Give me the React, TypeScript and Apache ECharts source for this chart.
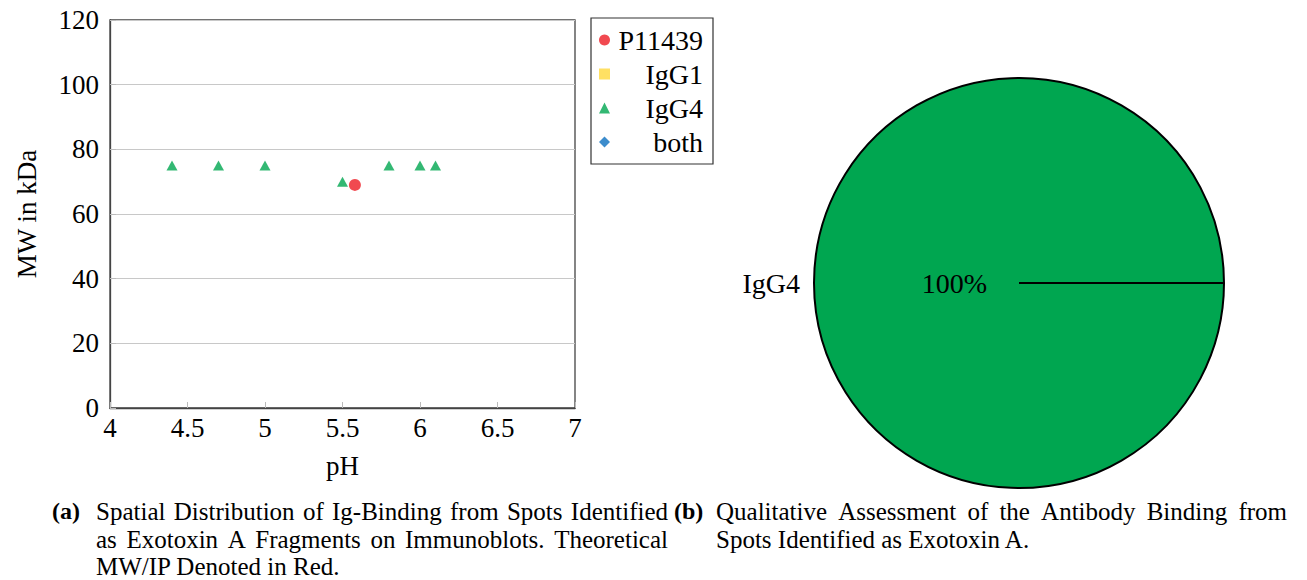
import React, { useEffect, useRef } from 'react';
import * as echarts from 'echarts';

const FONT = 'Liberation Serif';

// Scatter data: [pH, MW in kDa]
const p11439Points: number[][] = [[5.58, 69]];
const igg1Points: number[][] = [];
const igg4Points: number[][] = [
  [4.4, 75], [4.7, 75], [5.0, 75], [5.5, 70], [5.8, 75], [6.0, 75], [6.1, 75],
];
const bothPoints: number[][] = [];

const seriesNames = ['P11439', 'IgG1', 'IgG4', 'both'];

// Pie data
const pieNames = ['IgG4'];
const pieValues = [100];

const captionA = [
  'Spatial Distribution of Ig-Binding from Spots Identified',
  'as Exotoxin A Fragments on Immunoblots. Theoretical',
  'MW/IP Denoted in Red.',
];
const captionB = [
  'Qualitative Assessment of the Antibody Binding from',
  'Spots Identified as Exotoxin A.',
];

export default function App() {
  const ref = useRef<HTMLDivElement>(null);
  useEffect(() => {
    if (!ref.current) return;
    const chart = echarts.init(ref.current, undefined, { renderer: 'svg' });
    const capFont = `25px "${FONT}"`;
    const capBold = `bold 24px "${FONT}"`;
    const lineYs = [511, 539, 566];
    const graphic: any[] = [];
    const ctx = document.createElement('canvas').getContext('2d')!;
    ctx.font = capFont;
    const addLine = (line: string, x0: number, x1: number, y: number, justify: boolean) => {
      if (!justify) {
        graphic.push({ type: 'text', x: x0, y, style: { text: line, font: capFont, fill: '#000', verticalAlign: 'middle' } });
        return;
      }
      const words = line.split(' ').filter(Boolean);
      const widths = words.map((w) => ctx.measureText(w).width);
      const sum = widths.reduce((a, b) => a + b, 0);
      const gap = (x1 - x0 - sum) / (words.length - 1);
      let x = x0;
      words.forEach((w, i) => {
        graphic.push({ type: 'text', x, y, style: { text: w, font: capFont, fill: '#000', verticalAlign: 'middle' } });
        x += widths[i] + gap;
      });
    };
    graphic.push({ type: 'text', x: 52, y: lineYs[0], style: { text: '(a)', font: capBold, fill: '#000', verticalAlign: 'middle' } });
    captionA.forEach((t, i) => addLine(t, 96, 668, lineYs[i], i < captionA.length - 1));
    graphic.push({ type: 'text', x: 674, y: lineYs[0], style: { text: '(b)', font: capBold, fill: '#000', verticalAlign: 'middle' } });
    captionB.forEach((t, i) => addLine(t, 716, 1287, lineYs[i], i < captionB.length - 1));
    // slice boundary line of the full pie (start angle 0)
    graphic.push({ type: 'line', shape: { x1: 1019, y1: 283, x2: 1224, y2: 283 }, style: { stroke: '#000', lineWidth: 2 }, z: 10 });

    const pieData = pieNames.map((n, i) => ({ name: n, value: pieValues[i] }));

    chart.setOption({
      animation: false,
      textStyle: { fontFamily: FONT },
      grid: { left: 110, top: 20, width: 465, height: 388, show: true, borderColor: '#444', borderWidth: 1.3 },
      xAxis: {
        type: 'value', min: 4, max: 7, interval: 0.5,
        name: 'pH', nameLocation: 'middle', nameGap: 44,
        nameTextStyle: { fontFamily: FONT, fontSize: 27, color: '#000' },
        axisLine: { lineStyle: { color: '#444', width: 1.3 } },
        axisTick: { inside: true, length: 6, lineStyle: { color: '#bbb' } },
        axisLabel: { fontFamily: FONT, fontSize: 27, color: '#000', margin: 6 },
        splitLine: { show: false },
      },
      yAxis: {
        type: 'value', min: 0, max: 120, interval: 20,
        name: 'MW in kDa', nameLocation: 'middle', nameGap: 70,
        nameTextStyle: { fontFamily: FONT, fontSize: 27, color: '#000' },
        axisLine: { show: true, lineStyle: { color: '#444', width: 1.3 } },
        axisTick: { show: true, inside: true, length: 6, lineStyle: { color: '#bbb' } },
        axisLabel: { fontFamily: FONT, fontSize: 27, color: '#000', margin: 11 },
        splitLine: { show: true, lineStyle: { color: '#c8c8c8', width: 1 } },
      },
      legend: {
        orient: 'vertical', left: 591, top: 18,
        padding: [8, 10, 8, 8], itemGap: 6, itemWidth: 11, itemHeight: 11,
        borderColor: '#333', borderWidth: 1.2,
        data: seriesNames,
        formatter: '{t|{name}}',
        textStyle: { fontFamily: FONT, fontSize: 28, color: '#000', rich: { t: { width: 88, align: 'right', fontFamily: FONT, fontSize: 28, color: '#000' } } },
      },
      series: [
        { name: 'P11439', type: 'scatter', data: p11439Points, symbol: 'circle', symbolSize: 12, itemStyle: { color: '#ed1c24' }, z: 3 },
        { name: 'IgG1', type: 'scatter', data: igg1Points, symbol: 'rect', symbolSize: 10, itemStyle: { color: '#ffd83c' } },
        { name: 'IgG4', type: 'scatter', data: igg4Points, symbol: 'triangle', symbolSize: [11, 10], itemStyle: { color: '#00a650' } },
        { name: 'both', type: 'scatter', data: bothPoints, symbol: 'diamond', symbolSize: [9, 12], itemStyle: { color: '#0b6fbf' } },
        {
          type: 'pie', center: [1019, 283], radius: 205, startAngle: 0, clockwise: true,
          data: pieData, silent: true,
          itemStyle: { color: '#00a650', borderColor: '#000', borderWidth: 2 },
          label: { show: true, position: 'outside', formatter: '{b}', fontFamily: FONT, fontSize: 28, color: '#000' },
          labelLine: { show: false, length: 9, length2: 0 },
        },
        {
          type: 'pie', center: [1019, 283], radius: 123, startAngle: 0, clockwise: true,
          data: pieData, silent: true, z: 5,
          itemStyle: { color: 'rgba(0,0,0,0)', borderWidth: 0 },
          label: { show: true, position: 'inside', formatter: '{d}%', fontFamily: FONT, fontSize: 28, color: '#000' },
          labelLine: { show: false },
        },
      ],
      graphic,
    });
    return () => chart.dispose();
  }, []);
  return <div ref={ref} style={{ position: 'absolute', left: 0, top: 0, width: 1307, height: 580 }} />;
}
